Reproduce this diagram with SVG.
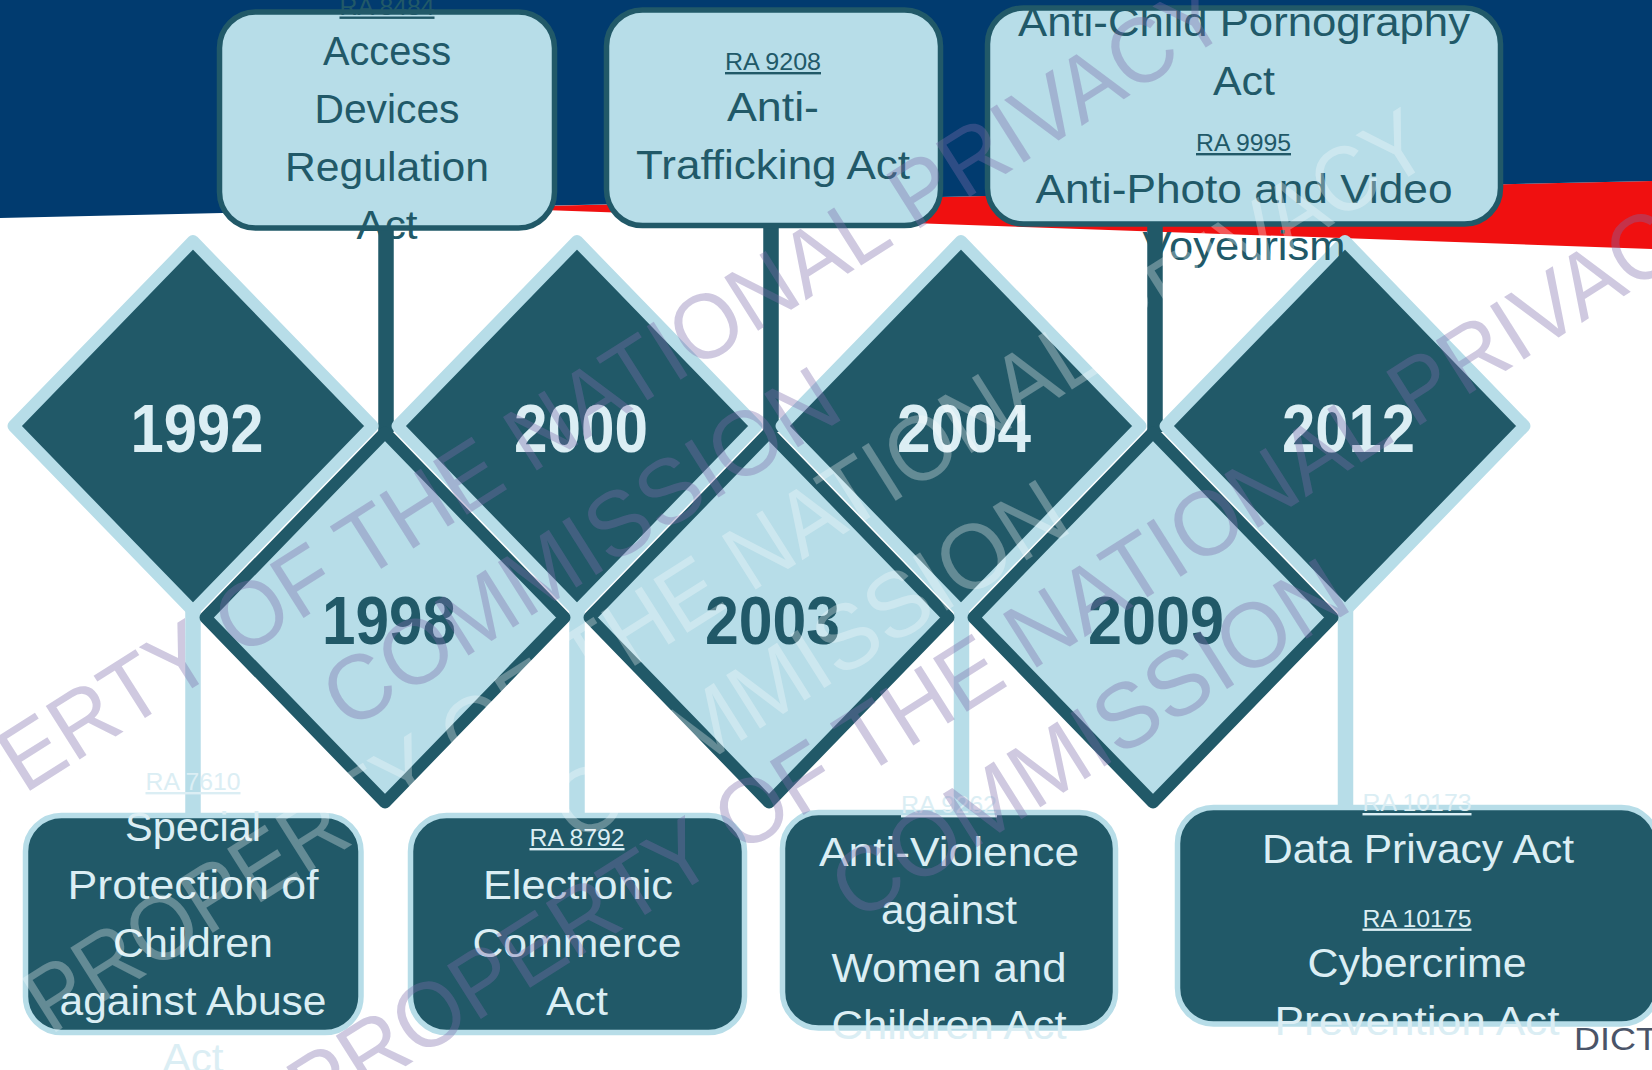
<svg xmlns="http://www.w3.org/2000/svg" width="1652" height="1070" viewBox="0 0 1652 1070">
<style>
text{font-family:"Liberation Sans",Arial,sans-serif;text-anchor:middle}
.t{font-size:40px}
.r{font-size:24px;text-decoration:underline}
.y{font-size:69px;font-weight:bold}
.dk{fill:#215968}
.lt{fill:#dbeef4}
.dup{fill:#215968;stroke:#b7dde8;stroke-width:12;stroke-linejoin:round}
.dlo{fill:#b7dde8;stroke:#215968;stroke-width:12;stroke-linejoin:round}
.btop{fill:#b7dde8;stroke:#215968;stroke-width:5.500}
.bbot{fill:#215968;stroke:#b7dde8;stroke-width:5.500}
.wm{font-size:92px}
.wp{fill:#7e6caa;fill-opacity:.37}
.ww{fill:#ffffff;fill-opacity:.3}
</style>
<defs>
<path id="dm" d="M0-185L179.500 0L0 185L-179.500 0Z"/>
</defs>
<rect width="1652" height="1070" fill="#fff"/>
<g id="background">
<polygon points="469,207.500 1652,181 1652,249" fill="#f01010"/>
<polygon points="0,0 1652,0 1652,181 0,218" fill="#013b6f"/>
</g>
<g id="connectors" fill="none" stroke-width="15.500">
<g stroke="#215968">
<path d="M386 225V432"/><path d="M771 222V432"/><path d="M1155 222V432"/>
</g>
<g stroke="#b7dde8">
<path d="M193 600V818"/><path d="M577 600V818"/><path d="M961.500 600V815"/><path d="M1345.500 600V810"/>
</g>
</g>
<g id="d1992"><use href="#dm" class="dup" x="193" y="426"/><text class="y lt" x="197" y="452" textLength="133" lengthAdjust="spacingAndGlyphs">1992</text></g>
<g id="d2000"><use href="#dm" class="dup" x="577" y="426"/><text class="y lt" x="581" y="452" textLength="134" lengthAdjust="spacingAndGlyphs">2000</text></g>
<g id="d2004"><use href="#dm" class="dup" x="961" y="426"/><text class="y lt" x="964" y="452" textLength="134" lengthAdjust="spacingAndGlyphs">2004</text></g>
<g id="d2012"><use href="#dm" class="dup" x="1345" y="426"/><text class="y lt" x="1348.500" y="452" textLength="133" lengthAdjust="spacingAndGlyphs">2012</text></g>
<g id="d1998"><use href="#dm" class="dlo" x="385" y="617.500"/><text class="y dk" x="389" y="644" textLength="134" lengthAdjust="spacingAndGlyphs">1998</text></g>
<g id="d2003"><use href="#dm" class="dlo" x="769" y="617.500"/><text class="y dk" x="772.500" y="644" textLength="135" lengthAdjust="spacingAndGlyphs">2003</text></g>
<g id="d2009"><use href="#dm" class="dlo" x="1153" y="617.500"/><text class="y dk" x="1156" y="644" textLength="136" lengthAdjust="spacingAndGlyphs">2009</text></g>

<g id="box-ra8484"><rect class="btop" x="219.500" y="12" width="335" height="216" rx="36"/>
<text class="r dk" x="387" y="14.500" textLength="95" lengthAdjust="spacingAndGlyphs">RA 8484</text>
<text class="t dk" x="387" y="65" textLength="128" lengthAdjust="spacingAndGlyphs">Access</text>
<text class="t dk" x="387" y="123" textLength="145" lengthAdjust="spacingAndGlyphs">Devices</text>
<text class="t dk" x="387" y="181" textLength="204" lengthAdjust="spacingAndGlyphs">Regulation</text>
<text class="t dk" x="387" y="239" textLength="61" lengthAdjust="spacingAndGlyphs">Act</text></g>
<g id="box-ra9208"><rect class="btop" x="606.500" y="10" width="334" height="215.500" rx="36"/>
<text class="r dk" x="773" y="70" textLength="96" lengthAdjust="spacingAndGlyphs">RA 9208</text>
<text class="t dk" x="773" y="121" textLength="92" lengthAdjust="spacingAndGlyphs">Anti-</text>
<text class="t dk" x="773" y="179" textLength="274" lengthAdjust="spacingAndGlyphs">Trafficking Act</text></g>
<g id="box-ra9995"><rect class="btop" x="987.500" y="8" width="513" height="216" rx="36"/>
<text class="t dk" x="1244" y="36" textLength="452" lengthAdjust="spacingAndGlyphs">Anti-Child Pornography</text>
<text class="t dk" x="1244" y="94.500" textLength="62" lengthAdjust="spacingAndGlyphs">Act</text>
<text class="r dk" x="1243.500" y="151" textLength="95" lengthAdjust="spacingAndGlyphs">RA 9995</text>
<text class="t dk" x="1244" y="203" textLength="417" lengthAdjust="spacingAndGlyphs">Anti-Photo and Video</text>
<text class="t dk" x="1244" y="260" textLength="203" lengthAdjust="spacingAndGlyphs">Voyeurism</text></g>

<g id="box-ra7610"><rect class="bbot" x="25.500" y="815.500" width="335.500" height="217" rx="36"/>
<text class="r" fill="#dbeef4" x="193" y="790" textLength="95" lengthAdjust="spacingAndGlyphs">RA 7610</text>
<text class="t lt" x="193" y="840.500" textLength="136" lengthAdjust="spacingAndGlyphs">Special</text>
<text class="t lt" x="193" y="898.500" textLength="251" lengthAdjust="spacingAndGlyphs">Protection of</text>
<text class="t lt" x="193" y="956.500" textLength="160" lengthAdjust="spacingAndGlyphs">Children</text>
<text class="t lt" x="193" y="1014.500" textLength="267" lengthAdjust="spacingAndGlyphs">against Abuse</text>
<text class="t lt" x="193" y="1072" textLength="61" lengthAdjust="spacingAndGlyphs">Act</text></g>
<g id="box-ra8792"><rect class="bbot" x="410.500" y="815.500" width="334" height="217" rx="36"/>
<text class="r lt" x="577" y="846" textLength="95" lengthAdjust="spacingAndGlyphs">RA 8792</text>
<text class="t lt" x="578" y="898.500" textLength="190" lengthAdjust="spacingAndGlyphs">Electronic</text>
<text class="t lt" x="577" y="956.500" textLength="209" lengthAdjust="spacingAndGlyphs">Commerce</text>
<text class="t lt" x="577" y="1014.500" textLength="62" lengthAdjust="spacingAndGlyphs">Act</text></g>
<g id="box-ra9262"><rect class="bbot" x="782.500" y="812.500" width="333" height="215.500" rx="36"/>
<text class="r lt" x="949" y="813" textLength="96" lengthAdjust="spacingAndGlyphs">RA 9262</text>
<text class="t lt" x="949" y="866" textLength="260" lengthAdjust="spacingAndGlyphs">Anti-Violence</text>
<text class="t lt" x="949" y="924" textLength="136" lengthAdjust="spacingAndGlyphs">against</text>
<text class="t lt" x="949" y="981.500" textLength="235" lengthAdjust="spacingAndGlyphs">Women and</text>
<text class="t lt" x="949" y="1039" textLength="235" lengthAdjust="spacingAndGlyphs">Children Act</text></g>
<g id="box-ra10173"><rect class="bbot" x="1177.500" y="807.500" width="480" height="216.500" rx="36"/>
<text class="r lt" x="1417" y="811" textLength="109" lengthAdjust="spacingAndGlyphs">RA 10173</text>
<text class="t lt" x="1418" y="862.500" textLength="312" lengthAdjust="spacingAndGlyphs">Data Privacy Act</text>
<text class="r lt" x="1417" y="926.500" textLength="109" lengthAdjust="spacingAndGlyphs">RA 10175</text>
<text class="t lt" x="1417" y="977" textLength="219" lengthAdjust="spacingAndGlyphs">Cybercrime</text>
<text class="t lt" x="1417" y="1035" textLength="285" lengthAdjust="spacingAndGlyphs">Prevention Act</text></g>
<text id="dict-logo" x="1574" y="1050" style="text-anchor:start;font-size:32px" fill="#4a5468" textLength="84" lengthAdjust="spacingAndGlyphs">DICT</text>
<g id="watermarks">
<g transform="translate(834 689) rotate(-32.300)"><text class="wm ww" x="-28" y="-126" textLength="1640" lengthAdjust="spacingAndGlyphs">PROPERTY OF THE NATIONAL PRIVACY</text><text class="wm ww" x="-6" y="-6" textLength="590" lengthAdjust="spacingAndGlyphs">COMMISSION</text></g>
<g transform="translate(604 577) rotate(-32.300)"><text class="wm wp" x="-15" y="-126" textLength="1680" lengthAdjust="spacingAndGlyphs">PROPERTY OF THE NATIONAL PRIVACY</text><text class="wm wp" x="-4" y="-6" textLength="590" lengthAdjust="spacingAndGlyphs">COMMISSION</text></g>
<g transform="translate(1104 774) rotate(-32.300)"><text class="wm wp" x="-15" y="-126" textLength="1680" lengthAdjust="spacingAndGlyphs">PROPERTY OF THE NATIONAL PRIVACY</text><text class="wm wp" x="6" y="-6" textLength="590" lengthAdjust="spacingAndGlyphs">COMMISSION</text></g>
</g>
</svg>
